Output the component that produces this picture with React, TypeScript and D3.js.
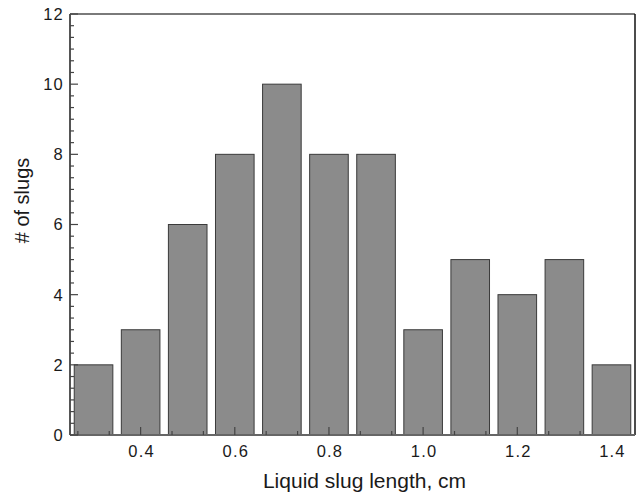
import React, { useEffect, useRef } from "react";
import * as d3 from "d3";

// bin centres (cm) and slug counts
const binCentres = [0.3, 0.4, 0.5, 0.6, 0.7, 0.8, 0.9, 1.0, 1.1, 1.2, 1.3, 1.4];
const slugCounts = [2, 3, 6, 8, 10, 8, 8, 3, 5, 4, 5, 2];
const xTicks = [0.4, 0.6, 0.8, 1.0, 1.2, 1.4];
const yTicks = [0, 2, 4, 6, 8, 10, 12];

const W = 644,
  H = 494;
const margin = { top: 14, right: 9, bottom: 59, left: 70 };
const width = W - margin.left - margin.right,
  height = H - margin.top - margin.bottom;

const x = d3.scaleLinear().domain([0.25, 1.45]).range([0, width]);
const y = d3.scaleLinear().domain([0, 12]).range([height, 0]);
const barW = 0.082;
const font = "'Liberation Sans', Arial, sans-serif";

export default function App() {
  const ref = useRef<SVGSVGElement>(null);

  useEffect(() => {
    const svg = d3.select(ref.current);
    svg.selectAll("*").remove();
    const g = svg
      .append("g")
      .attr("transform", "translate(" + margin.left + "," + margin.top + ")");

    // bars (the first one runs to the frame)
    g.selectAll("rect.bar")
      .data(binCentres)
      .enter()
      .append("rect")
      .attr("class", "bar")
      .attr("x", (d) => x(Math.max(d - barW / 2, x.domain()[0])))
      .attr("width", (d) => x(d + barW / 2) - x(Math.max(d - barW / 2, x.domain()[0])))
      .attr("y", (d, i) => y(slugCounts[i]))
      .attr("height", (d, i) => y(0) - y(slugCounts[i]))
      .attr("fill", "#8b8b8b")
      .attr("stroke", "#3a3a3a")
      .attr("stroke-width", 1);

    // frame
    g.append("line")
      .attr("x1", 0).attr("x2", width).attr("y1", 0).attr("y2", 0)
      .attr("stroke", "#7a7a7a").attr("stroke-width", 2);
    g.append("line")
      .attr("x1", width).attr("x2", width).attr("y1", 0).attr("y2", height)
      .attr("stroke", "#111").attr("stroke-width", 1.5);
    g.append("line")
      .attr("x1", 0).attr("x2", width).attr("y1", height).attr("y2", height)
      .attr("stroke", "#666").attr("stroke-width", 2);
    g.append("line")
      .attr("x1", 0).attr("x2", 0).attr("y1", 0).attr("y2", height)
      .attr("stroke", "#555").attr("stroke-width", 2);

    // y ticks, pointing inward
    const yMinor = d3.range(0, 12 + 1e-9, 1 / 3);
    g.selectAll("line.ymin")
      .data(yMinor)
      .enter()
      .append("line")
      .attr("x1", 0)
      .attr("x2", (d) => (Math.abs(d / 2 - Math.round(d / 2)) < 1e-6 ? 8 : 4))
      .attr("y1", (d) => y(d))
      .attr("y2", (d) => y(d))
      .attr("stroke", "#444")
      .attr("stroke-width", 1.2);
    g.selectAll("text.ylab")
      .data(yTicks)
      .enter()
      .append("text")
      .attr("x", -6)
      .attr("y", (d) => y(d))
      .attr("dy", "0.36em")
      .attr("text-anchor", "end")
      .style("font-family", font)
      .style("font-size", "16.5px")
      .style("letter-spacing", "1.2px")
      .style("fill", "#1a1a1a")
      .text((d) => d);

    // x ticks
    const xMinor = d3.range(0, 18).map((i) => 0.2 + (i * 0.2) / 3).filter((d) => d > 0.25 && d < 1.45);
    g.selectAll("line.xmin")
      .data(xMinor)
      .enter()
      .append("line")
      .attr("x1", (d) => x(d))
      .attr("x2", (d) => x(d))
      .attr("y1", height)
      .attr("y2", (d, i) => height - (xTicks.some((t) => Math.abs(t - d) < 1e-6) ? 8 : 4))
      .attr("stroke", "#444")
      .attr("stroke-width", 1.2);
    g.selectAll("text.xlab")
      .data(xTicks)
      .enter()
      .append("text")
      .attr("x", (d) => x(d) + 1)
      .attr("y", height + 22)
      .attr("text-anchor", "middle")
      .style("font-family", font)
      .style("font-size", "16.5px")
      .style("letter-spacing", "1.2px")
      .style("fill", "#1a1a1a")
      .text((d) => d.toFixed(1));

    // axis titles
    g.append("text")
      .attr("x", width / 2 + 12)
      .attr("y", height + 53)
      .attr("text-anchor", "middle")
      .style("font-family", font)
      .style("font-size", "21px")
      .style("fill", "#1a1a1a")
      .text("Liquid slug length, cm");
    g.append("text")
      .attr("transform", "translate(-41," + (height / 2 - 24) + ") rotate(-90)")
      .attr("text-anchor", "middle")
      .style("font-family", font)
      .style("font-size", "20px")
      .style("fill", "#1a1a1a")
      .text("# of slugs");
  }, []);

  return (
    <div style={{ position: "absolute", left: 0, top: 0 }}>
      <svg ref={ref} width={W} height={H} style={{ display: "block", background: "#fff" }} />
    </div>
  );
}
